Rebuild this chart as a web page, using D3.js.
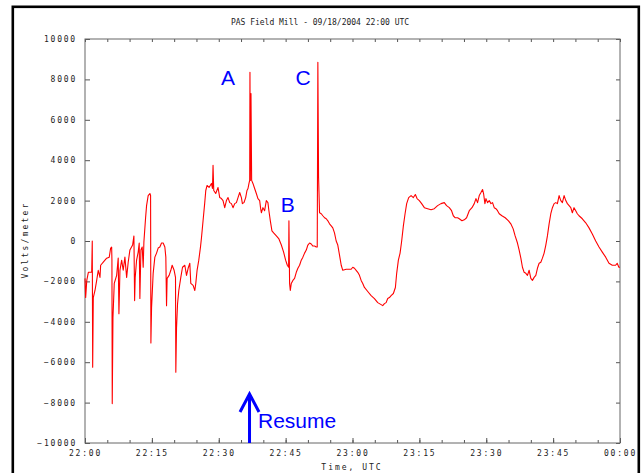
<!DOCTYPE html>
<html>
<head>
<meta charset="utf-8">
<script src="https://cdn.jsdelivr.net/npm/d3@7/dist/d3.min.js"></script>
<style>
  body { margin: 0; background: #fff; }
  svg { display: block; }
  .tick text, .lbl { font-family: "DejaVu Sans Mono", monospace; font-size: 8px; fill: #222; }
  .blue { font-family: "Liberation Sans", Arial, sans-serif; fill: #0000ff; }
</style>
</head>
<body>
<svg width="644" height="473"></svg>
<script>
// minutes after 22:00 UTC
const minutes = [
  0, 0.15, 0.4, 0.75, 1.5, 1.63, 1.72, 1.86, 2.24, 2.62, 2.97, 3.36, 3.51, 4.1, 4.86, 5.44, 5.75, 5.98, 6.04, 6.11,
  6.27, 6.56, 7.1, 7.45, 7.61, 7.84, 8.22, 8.57, 8.95, 9.34, 9.69, 10.07, 10.68, 10.97, 11.13, 11.26, 11.57, 11.93, 12.16, 12.31,
  12.54, 12.83, 13.05, 13.21, 13.59, 13.81, 14.17, 14.55, 14.71, 14.78, 14.93, 15.29, 15.67, 16.05, 16.41, 16.79, 17.17, 17.53, 17.91, 18.13,
  18.29, 18.42, 18.87, 19.25, 19.55, 19.99, 20.3, 20.37, 20.53, 20.76, 21.04, 21.49, 21.87, 22.39, 22.77, 23.13, 23.51, 23.73, 24.25, 24.63,
  24.85, 25.14, 25.52, 25.9, 26.12, 26.48, 26.86, 27.09, 27.38, 27.83, 28.36, 28.59, 28.72, 28.88, 29.32, 29.84, 30.22, 30.6, 30.96, 31.34,
  31.72, 32.08, 32.46, 32.84, 33.2, 33.58, 33.96, 34.32, 34.7, 35.08, 35.3, 35.66, 36.04, 36.33, 36.56, 36.78, 36.94, 37.0, 37.09, 37.23,
  37.38, 37.67, 38.05, 38.43, 38.79, 39.18, 39.4, 39.56, 39.91, 40.29, 40.67, 41.03, 41.25, 41.57, 41.93, 42.31, 42.92, 43.5, 44.04, 44.55,
  45.0, 45.38, 45.67, 45.74, 45.89, 46.05, 46.27, 46.63, 47.01, 47.39, 47.75, 48.13, 48.51, 48.87, 49.25, 49.63, 49.99, 50.37, 50.75, 51.11,
  51.49, 51.87, 52.09, 52.23, 52.39, 52.61, 52.99, 53.35, 53.73, 54.11, 54.47, 54.85, 55.23, 55.58, 55.96, 56.34, 56.7, 57.05, 57.47, 57.82,
  58.58, 59.7, 60.06, 60.44, 60.82, 61.18, 61.56, 61.94, 62.3, 62.68, 63.42, 64.18, 64.92, 65.66, 66.42, 66.78, 67.16, 67.54, 67.9, 68.28,
  68.66, 69.17, 69.62, 69.91, 70.29, 70.67, 71.03, 71.41, 71.79, 72.15, 72.6, 73.14, 73.65, 74.1, 74.48, 74.99, 75.51, 76.12, 76.85, 77.62,
  78.35, 79.09, 79.85, 80.59, 81.1, 81.71, 82.22, 82.61, 83.05, 83.57, 83.95, 84.55, 85.07, 85.59, 86.19, 86.8, 87.31, 87.69, 88.05, 88.43,
  88.81, 89.17, 89.4, 89.7, 89.93, 90.29, 90.67, 91.05, 91.41, 91.79, 92.17, 92.53, 92.91, 93.51, 94.25, 94.99, 95.51, 96.04, 96.48, 97.0,
  97.38, 97.76, 98.12, 98.5, 98.88, 99.24, 99.62, 100.0, 100.36, 100.74, 101.12, 101.48, 101.86, 102.24, 102.6, 102.98, 103.36, 103.72, 104.1, 104.48,
  104.84, 105.22, 105.6, 105.96, 106.34, 106.72, 107.08, 107.46, 107.84, 108.2, 108.58, 108.96, 109.31, 109.69, 110.07, 110.43, 110.81, 111.55, 112.31, 113.05,
  113.79, 114.55, 115.29, 116.03, 116.79, 117.53, 118.27, 119.01, 119.37, 119.75, 120
];
// field, volts/meter
const volts = [
  -1850, -2800, -1950, -1550, -1550, 0, -6250, -2800, -2450, -1950, -1450, -1800, -1200, -1050, -850, -800, -350, -300, -950, -8050,
  -3800, -2100, -1700, -850, -3600, -1450, -950, -1450, -800, -1800, -1050, -450, -200, 250, -2950, -1800, -950, -550, -100, -2850,
  -450, -300, -1300, -50, 1150, 1750, 2250, 2350, 2250, -5050, -3300, -1600, -800, -600, -350, -300, -100, -100, -300, -800,
  -3200, -1850, -1700, -1450, -1200, -1450, -1800, -6500, -4300, -3100, -2450, -1800, -1300, -1200, -1700, -1350, -1100, -2100, -2200, -2450,
  -2100, -1450, -950, -300, 150, 1000, 1900, 2500, 2750, 2650, 2850, 2600, 3750, 2500, 2350, 2650, 2150, 2100, 2000, 1650,
  2000, 2150, 1900, 1850, 1650, 1850, 1900, 2150, 2400, 2150, 1850, 1900, 2150, 2500, 2600, 2850, 3000, 8350, 3000, 7300,
  3000, 2850, 2600, 2350, 2100, 2000, 1600, 1400, 1650, 1500, 2000, 1900, 1500, 1000, 500, 400, 250, 100, -200, -550,
  -950, -1200, -1300, 1000, -2100, -2450, -2100, -1950, -1850, -1550, -1350, -1200, -950, -800, -600, -450, -200, -100, -150, -250,
  -250, -300, -300, 8850, 3150, 1400, 1350, 1250, 1150, 1100, 1000, 850, 750, 650, 400, 0, -200, -650, -1200, -1450,
  -1400, -1400, -1300, -1350, -1450, -1550, -1700, -1950, -2100, -2300, -2500, -2700, -2850, -3050, -3150, -3200, -3100, -3050, -2850, -2800,
  -2700, -2600, -2300, -1600, -950, -600, 0, 750, 1350, 1850, 2150, 2250, 2150, 2300, 2100, 2000, 1850, 1650, 1600, 1550,
  1600, 1750, 1850, 1900, 1750, 1650, 1500, 1250, 1150, 1150, 1100, 1000, 1050, 1150, 1500, 1650, 1850, 2100, 1900, 2250,
  2400, 2550, 2350, 1850, 2100, 1900, 2000, 1850, 1900, 1650, 1600, 1500, 1350, 1250, 1150, 1000, 850, 600, 250, -100,
  -450, -850, -1300, -1550, -1600, -1700, -1450, -1850, -1950, -1800, -1700, -1350, -1100, -1050, -850, -600, -200, 250, 850, 1350,
  1650, 1850, 1900, 1850, 2250, 2000, 1900, 2250, 2000, 1850, 1750, 1650, 1400, 1650, 1500, 1350, 1250, 1100, 900, 650,
  350, 0, -300, -550, -800, -1100, -1200, -1200, -1100, -1300, -1300
];
const yTicks = d3.range(-10000, 10001, 2000);
const title = "PAS Field Mill - 09/18/2004 22:00 UTC";
const notes = [
  { text: "A", t: 32.1, v: 7700 },
  { text: "C", t: 48.9, v: 7700 },
  { text: "B", t: 45.5, v: 1420 }
];
const resumeAt = 36.9;

const start = new Date(Date.UTC(2004, 8, 18, 22, 0));
const end = new Date(Date.UTC(2004, 8, 19, 0, 0));
const atMinute = (m) => new Date(start.getTime() + m * 60000);
const data = minutes.map((m, i) => ({ t: atMinute(m), v: volts[i] }));

const svg = d3.select('svg');
const plotLeft = 85, plotRight = 620, plotTop = 39, plotBottom = 443;

const x = d3.scaleUtc().domain([start, end]).range([plotLeft, plotRight]);
const y = d3.scaleLinear().domain([-10000, 10000]).range([plotBottom, plotTop]);
const fmt = d3.utcFormat('%H:%M');
const every5 = d3.utcMinute.every(5).range(start, d3.utcMinute.offset(end, 1));
const every15 = d3.utcMinute.every(15).range(start, d3.utcMinute.offset(end, 1));

// outer frame
svg.append('rect')
  .attr('x', 12.8).attr('y', 6.8).attr('width', 626).attr('height', 520)
  .attr('fill', 'none').attr('stroke', '#000').attr('stroke-width', 2.6);

function clean(g) {
  g.select('.domain').remove();
  g.selectAll('.tick line').attr('stroke', '#555');
}

// axes
svg.append('g').attr('transform', `translate(${plotLeft},0)`)
  .call(d3.axisLeft(y).tickValues(yTicks).tickSize(-5).tickPadding(8).tickFormat(d3.format('d')))
  .call(clean)
  .selectAll('text').attr('letter-spacing', '1.8px');

svg.append('g').attr('transform', `translate(${plotRight},0)`)
  .call(d3.axisRight(y).tickValues(yTicks).tickSize(-4).tickFormat(''))
  .call(clean);

svg.append('g').attr('transform', `translate(0,${plotBottom})`)
  .call(d3.axisBottom(x).tickValues(every5).tickSize(-3).tickFormat(''))
  .call(clean);

svg.append('g').attr('transform', `translate(0,${plotBottom})`)
  .call(d3.axisBottom(x).tickValues(every15).tickSize(-5).tickPadding(7).tickFormat(fmt))
  .call(clean)
  .selectAll('text').attr('letter-spacing', '1.8px');

svg.append('g').attr('transform', `translate(0,${plotTop})`)
  .call(d3.axisTop(x).tickValues(every5).tickSize(-3).tickFormat(''))
  .call(clean);

// plot box
svg.append('rect')
  .attr('x', plotLeft).attr('y', plotTop).attr('width', plotRight - plotLeft).attr('height', plotBottom - plotTop)
  .attr('fill', 'none').attr('stroke', '#666').attr('stroke-width', 1);

// field trace
const line = d3.line().x(d => x(d.t)).y(d => y(d.v));
svg.append('path')
  .datum(data)
  .attr('d', line)
  .attr('fill', 'none')
  .attr('stroke', '#ff0000')
  .attr('stroke-width', 1.1)
  .attr('stroke-linejoin', 'round');

// titles
svg.append('text').attr('class', 'lbl')
  .attr('x', 320).attr('y', 25).attr('text-anchor', 'middle')
  .text(title);

svg.append('text').attr('class', 'lbl')
  .attr('x', 352).attr('y', 470).attr('text-anchor', 'middle')
  .attr('letter-spacing', '2px')
  .text('Time, UTC');

svg.append('text').attr('class', 'lbl')
  .attr('transform', 'translate(28,240) rotate(-90)')
  .attr('text-anchor', 'middle')
  .attr('letter-spacing', '2.2px')
  .text('Volts/meter');

// annotations
svg.append('g').selectAll('text')
  .data(notes)
  .enter()
  .append('text')
    .attr('class', 'blue')
    .attr('x', d => x(atMinute(d.t)))
    .attr('y', d => y(d.v))
    .attr('text-anchor', 'middle')
    .attr('font-size', '21px')
    .text(d => d.text);

const ax = x(atMinute(resumeAt));
svg.append('path')
  .attr('d', `M${ax},${plotBottom} L${ax},394 M${ax - 9.5},412 L${ax},394 L${ax + 9.5},412`)
  .attr('fill', 'none')
  .attr('stroke', '#0000ff')
  .attr('stroke-width', 3);

svg.append('text').attr('class', 'blue')
  .attr('x', ax + 8.5).attr('y', 428)
  .attr('font-size', '21px')
  .text('Resume');
</script>
</body>
</html>
